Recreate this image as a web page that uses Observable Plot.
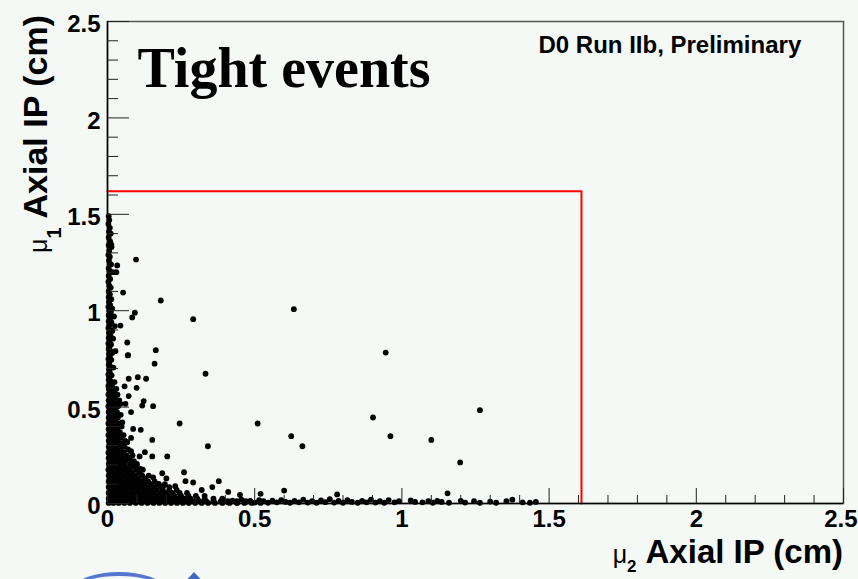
<!DOCTYPE html>
<html><head><meta charset="utf-8">
<script src="https://cdn.jsdelivr.net/npm/d3@7"></script>
<script src="https://cdn.jsdelivr.net/npm/@observablehq/plot@0.6"></script>
<style>
html,body{margin:0;padding:0;background:#f4f9f6;}
#chart{position:relative;width:858px;height:579px;overflow:hidden;background:#f4f9f6;}
#logo{position:absolute;left:76px;top:572px;width:86px;height:30px;border-radius:50%;border:4px solid #5577d4;border-bottom:none;box-sizing:border-box;}
#logo2{position:absolute;left:183px;top:572px;width:0;height:0;border-left:11px solid transparent;border-right:11px solid transparent;border-bottom:12px solid #4466c8;}
</style></head><body><div id="chart"><div id="logo"></div><div id="logo2"></div></div>
<script>
// ---- axes ----
const xMajor = [0, 0.5, 1, 1.5, 2, 2.5];
const yMajor = [0, 0.5, 1, 1.5, 2, 2.5];
const minorTicks = [0.1,0.2,0.3,0.4,0.6,0.7,0.8,0.9,1.1,1.2,1.3,1.4,1.6,1.7,1.8,1.9,2.1,2.2,2.3,2.4];
const xTitle = "Axial IP (cm)";
const yTitle = "Axial IP (cm)";
const labelText = "Tight events";
const expText = "D0 Run IIb, Preliminary";
// ---- selection box (cm) ----
const cutX = 1.61;
const cutY = 1.62;

// ---- events: [mu2 IP, mu1 IP] ----
// column hugging the y axis
const columnPts = [[0.004,1.49],[0.006,1.47],[0.003,1.45],[0.008,1.43],[0.005,1.41],[0.011,1.40],[0.004,1.38],[0.009,1.36],[0.004,1.34],[0.014,1.33],[0.006,1.31],[0.003,1.29],[0.008,1.28],[0.005,1.26],[0.012,1.24],[0.004,1.22],[0.007,1.205],[0.018,1.20],[0.004,1.18],[0.009,1.165],[0.003,1.15],[0.006,1.13],[0.011,1.12],[0.004,1.10],[0.008,1.085],[0.004,1.07],[0.013,1.06],[0.005,1.045],[0.009,1.03],[0.003,1.02],[0.016,1.01],[0.006,1.00],[0.011,0.99],[0.004,0.975],[0.022,0.97],[0.008,0.96],[0.004,0.945],[0.013,0.94],[0.006,0.925],[0.025,0.92],[0.003,0.91],[0.009,0.90],[0.016,0.895],[0.005,0.885],[0.010,0.87],[0.004,0.86],[0.019,0.855],[0.007,0.845],[0.003,0.83],[0.012,0.825],[0.006,0.81],[0.004,0.80],[0.010,0.79],[0.016,0.78],[0.005,0.775],[0.008,0.76],[0.003,0.75],[0.013,0.745],[0.006,0.73],[0.004,0.72],[0.010,0.71],[0.020,0.705],[0.005,0.695],[0.008,0.68],[0.003,0.67],[0.014,0.665],[0.006,0.655],[0.004,0.64],[0.011,0.635],[0.024,0.63],[0.007,0.62],[0.003,0.61],[0.016,0.605]];
// dense core near the origin: [mu1 IP, list of mu2 IP]
const coreRows = [
 [0.595,[0.004,0.018,0.03]],[0.58,[0.009,0.024]],[0.565,[0.003,0.016,0.034]],[0.55,[0.01,0.026]],
 [0.535,[0.004,0.019,0.04]],[0.52,[0.011,0.028]],[0.505,[0.003,0.017,0.036]],[0.49,[0.009,0.025]],
 [0.475,[0.004,0.018,0.032]],[0.46,[0.011,0.026,0.045]],[0.445,[0.004,0.019,0.035]],[0.43,[0.010,0.027]],
 [0.415,[0.003,0.017,0.038]],[0.40,[0.010,0.025,0.048]],[0.385,[0.004,0.018,0.033]],[0.37,[0.011,0.026,0.042]],
 [0.355,[0.003,0.018,0.034,0.055]],[0.34,[0.010,0.026,0.045]],[0.325,[0.004,0.018,0.035,0.06]],[0.31,[0.011,0.027,0.048]],
 [0.295,[0.004,0.019,0.036,0.058]],[0.28,[0.010,0.027,0.045,0.07]],[0.265,[0.003,0.018,0.036,0.055]],
 [0.25,[0.010,0.027,0.045,0.065,0.085]],[0.235,[0.004,0.019,0.036,0.055,0.075]],[0.22,[0.011,0.028,0.046,0.065,0.09]],
 [0.205,[0.004,0.019,0.037,0.056,0.078,0.1]],[0.19,[0.010,0.027,0.046,0.065,0.088]],
 [0.175,[0.003,0.019,0.037,0.056,0.075,0.098,0.12]],[0.16,[0.011,0.028,0.046,0.066,0.085,0.108]],
 [0.145,[0.004,0.019,0.037,0.056,0.076,0.095,0.118,0.14]],[0.13,[0.010,0.028,0.046,0.066,0.086,0.106,0.128]],
 [0.115,[0.004,0.019,0.037,0.056,0.076,0.096,0.116,0.138,0.16]],
 [0.10,[0.011,0.028,0.047,0.066,0.086,0.106,0.126,0.148,0.17,0.195]],
 [0.085,[0.004,0.02,0.038,0.057,0.076,0.096,0.116,0.136,0.158,0.18,0.21]],
 [0.07,[0.011,0.029,0.047,0.066,0.086,0.106,0.126,0.146,0.166,0.188,0.21,0.235]],
 [0.055,[0.004,0.02,0.038,0.057,0.076,0.096,0.116,0.136,0.156,0.176,0.198,0.22,0.245,0.27]],
 [0.04,[0.011,0.029,0.047,0.066,0.086,0.106,0.126,0.146,0.166,0.186,0.206,0.228,0.25,0.275,0.30,0.33]],
 [0.025,[0.004,0.02,0.038,0.057,0.076,0.096,0.116,0.136,0.156,0.176,0.196,0.216,0.238,0.26,0.282,0.305,0.33,0.36,0.39]],
 [0.012,[0.011,0.029,0.047,0.066,0.086,0.106,0.126,0.146,0.166,0.186,0.206,0.226,0.246,0.268,0.29,0.312,0.335,0.36,0.385,0.41,0.44,0.47]],
 [0.003,[0.004,0.02,0.038,0.057,0.076,0.096,0.116,0.136,0.156,0.176,0.196,0.216,0.236,0.256,0.276,0.298,0.32,0.342,0.365,0.39,0.415,0.44,0.465,0.49,0.52]]
];
// events along the x axis
const floorPts = [[0.395,0.018],[0.41,0.006],[0.425,0.015],[0.44,0.004],[0.455,0.02],[0.47,0.008],[0.485,0.014],[0.50,0.005],[0.515,0.018],
 [0.53,0.012],[0.545,0.004],[0.56,0.015],[0.575,0.006],[0.59,0.018],[0.605,0.008],[0.62,0.004],[0.635,0.014],[0.65,0.006],[0.665,0.02],[0.68,0.005],[0.695,0.012],[0.71,0.004],[0.725,0.016],[0.74,0.007],[0.755,0.022],[0.77,0.005],[0.785,0.013],[0.80,0.004],[0.815,0.018],[0.83,0.008],[0.85,0.004],[0.865,0.014],[0.88,0.006],[0.895,0.02],[0.91,0.005],[0.925,0.012],[0.94,0.004],[0.955,0.018],[0.975,0.006],[0.99,0.012],[1.03,0.016],[1.045,0.008],[1.07,0.006],[1.09,0.012],[1.105,0.004],[1.12,0.014],[1.135,0.008],[1.16,0.004],[1.2,0.014],[1.215,0.005],[1.245,0.012],[1.265,0.004],[1.3,0.01],[1.32,0.004],[1.355,0.012],[1.375,0.02],[1.41,0.006],[1.435,0.004],[1.455,0.008]];
// isolated events
const scatterPts = [[0.097,1.265],[0.033,1.235],[0.03,1.20],[0.053,1.094],[0.181,1.053],[0.633,1.008],[0.093,0.99],[0.084,0.965],[0.291,0.956],[0.044,0.923],[0.067,0.835],[0.164,0.795],[0.07,0.77],[0.027,0.79],[0.013,1.343],[0.069,0.768],[0.16,0.725],[0.333,0.673],[0.072,0.647],[0.103,0.655],[0.131,0.647],[0.058,0.608],[0.099,0.60],[0.072,0.557],[0.123,0.531],[0.118,0.508],[0.155,0.505],[0.044,0.517],[0.061,0.517],[0.08,0.474],[0.245,0.415],[0.51,0.415],[0.624,0.349],[0.05,0.42],[0.087,0.387],[0.113,0.382],[0.08,0.34],[0.152,0.33],[0.067,0.318],[0.341,0.297],[0.08,0.271],[0.152,0.244],[0.203,0.244],[0.127,0.266],[0.109,0.244],[0.099,0.197],[0.112,0.18],[0.186,0.157],[0.26,0.162],[0.265,0.116],[0.291,0.109],[0.378,0.116],[0.356,0.085],[0.52,0.05],[0.60,0.067],[0.155,0.136],[0.174,0.102],[0.191,0.093],[0.945,0.783],[0.902,0.446],[1.265,0.484],[0.662,0.297],[0.961,0.349],[1.10,0.33],[1.198,0.213],[0.78,0.047],[1.155,0.053],[0.2,0.13],[0.23,0.09],[0.32,0.07],[0.41,0.06],[0.45,0.045]];

const events = [
  ...columnPts,
  ...coreRows.flatMap(([y, xs]) => xs.map(x => [x, y])),
  ...floorPts,
  ...scatterPts
];
const cutBox = [[0, cutY], [cutX, cutY], [cutX, 0]];

const W = 858, H = 579, mL = 107, mR = 15, mT = 21, mB = 76;
const fw = W - mL - mR, fh = H - mT - mB;
const sans = "'Liberation Sans', Arial, Helvetica, sans-serif";
const lastX = xMajor[xMajor.length - 1];

const chart = Plot.plot({
  width: W, height: H,
  marginLeft: mL, marginRight: mR, marginTop: mT, marginBottom: mB,
  style: {background: "#f4f9f6", fontFamily: sans, overflow: "visible"},
  x: {domain: [0, 2.5], axis: null},
  y: {domain: [0, 2.5], axis: null},
  marks: [
    Plot.frame({stroke: "#555", strokeWidth: 1.5}),
    Plot.dot(events, {x: d => d[0], y: d => d[1], r: 2.9, fill: "black", stroke: "none"}),
    Plot.line(cutBox, {x: d => d[0], y: d => d[1], stroke: "#ff0000", strokeWidth: 2}),
    Plot.ruleX([0], {stroke: "black", strokeWidth: 1.5}),
    Plot.ruleY([0], {stroke: "black", strokeWidth: 1.5}),
    Plot.tickX(minorTicks, {x: d => d, insetTop: fh - 8, stroke: "#222"}),
    Plot.tickX(xMajor, {x: d => d, insetTop: fh - 15, stroke: "#222"}),
    Plot.tickY(minorTicks, {y: d => d, insetRight: fw - 11, stroke: "#222"}),
    Plot.tickY(yMajor, {y: d => d, insetRight: fw - 22, stroke: "#222"}),
    Plot.text(xMajor.filter(d => d !== lastX), {x: d => d, y: 0, dy: 16, text: d => String(d), fontSize: 24, fontWeight: "bold", fill: "black"}),
    Plot.text([lastX], {x: d => d, y: 0, dy: 16, dx: 14, textAnchor: "end", text: d => String(d), fontSize: 24, fontWeight: "bold", fill: "black"}),
    Plot.text(yMajor, {x: 0, y: d => d, dx: -7, dy: 3, textAnchor: "end", text: d => String(d), fontSize: 24, fontWeight: "bold", fill: "black"}),
    Plot.text([labelText], {frameAnchor: "top-left", dx: 30, dy: 26, text: d => d, fontSize: 56, fontWeight: "bold", fontFamily: "'Liberation Serif', 'Times New Roman', serif", lineAnchor: "top", fill: "black"}),
    Plot.text([expText], {frameAnchor: "top-left", dx: 431, dy: 24, text: d => d, fontSize: 24, fontWeight: "bold", textAnchor: "start", lineAnchor: "middle", fill: "black"})
  ]
});
document.getElementById("chart").prepend(chart);

const svg = d3.select(chart);
// x-axis title
const xt = svg.append("text").attr("x", 843).attr("y", 563).attr("text-anchor", "end")
  .attr("font-family", sans).attr("fill", "black");
xt.append("tspan").attr("font-size", 25).text("μ");
xt.append("tspan").attr("font-size", 17).attr("font-weight", "bold").attr("dy", 9).text("2");
xt.append("tspan").attr("font-size", 33).attr("font-weight", "bold").attr("dy", -9).attr("dx", 9).text(xTitle);
// y-axis title
const yt = svg.append("text").attr("transform", "translate(47,15) rotate(-90)").attr("text-anchor", "end")
  .attr("font-family", sans).attr("fill", "black");
yt.append("tspan").attr("font-size", 25).text("μ");
yt.append("tspan").attr("font-size", 20).attr("font-weight", "bold").attr("dy", 14).text("1");
yt.append("tspan").attr("font-size", 34).attr("font-weight", "bold").attr("dy", -14).attr("dx", 9).text(yTitle);
</script></body></html>
